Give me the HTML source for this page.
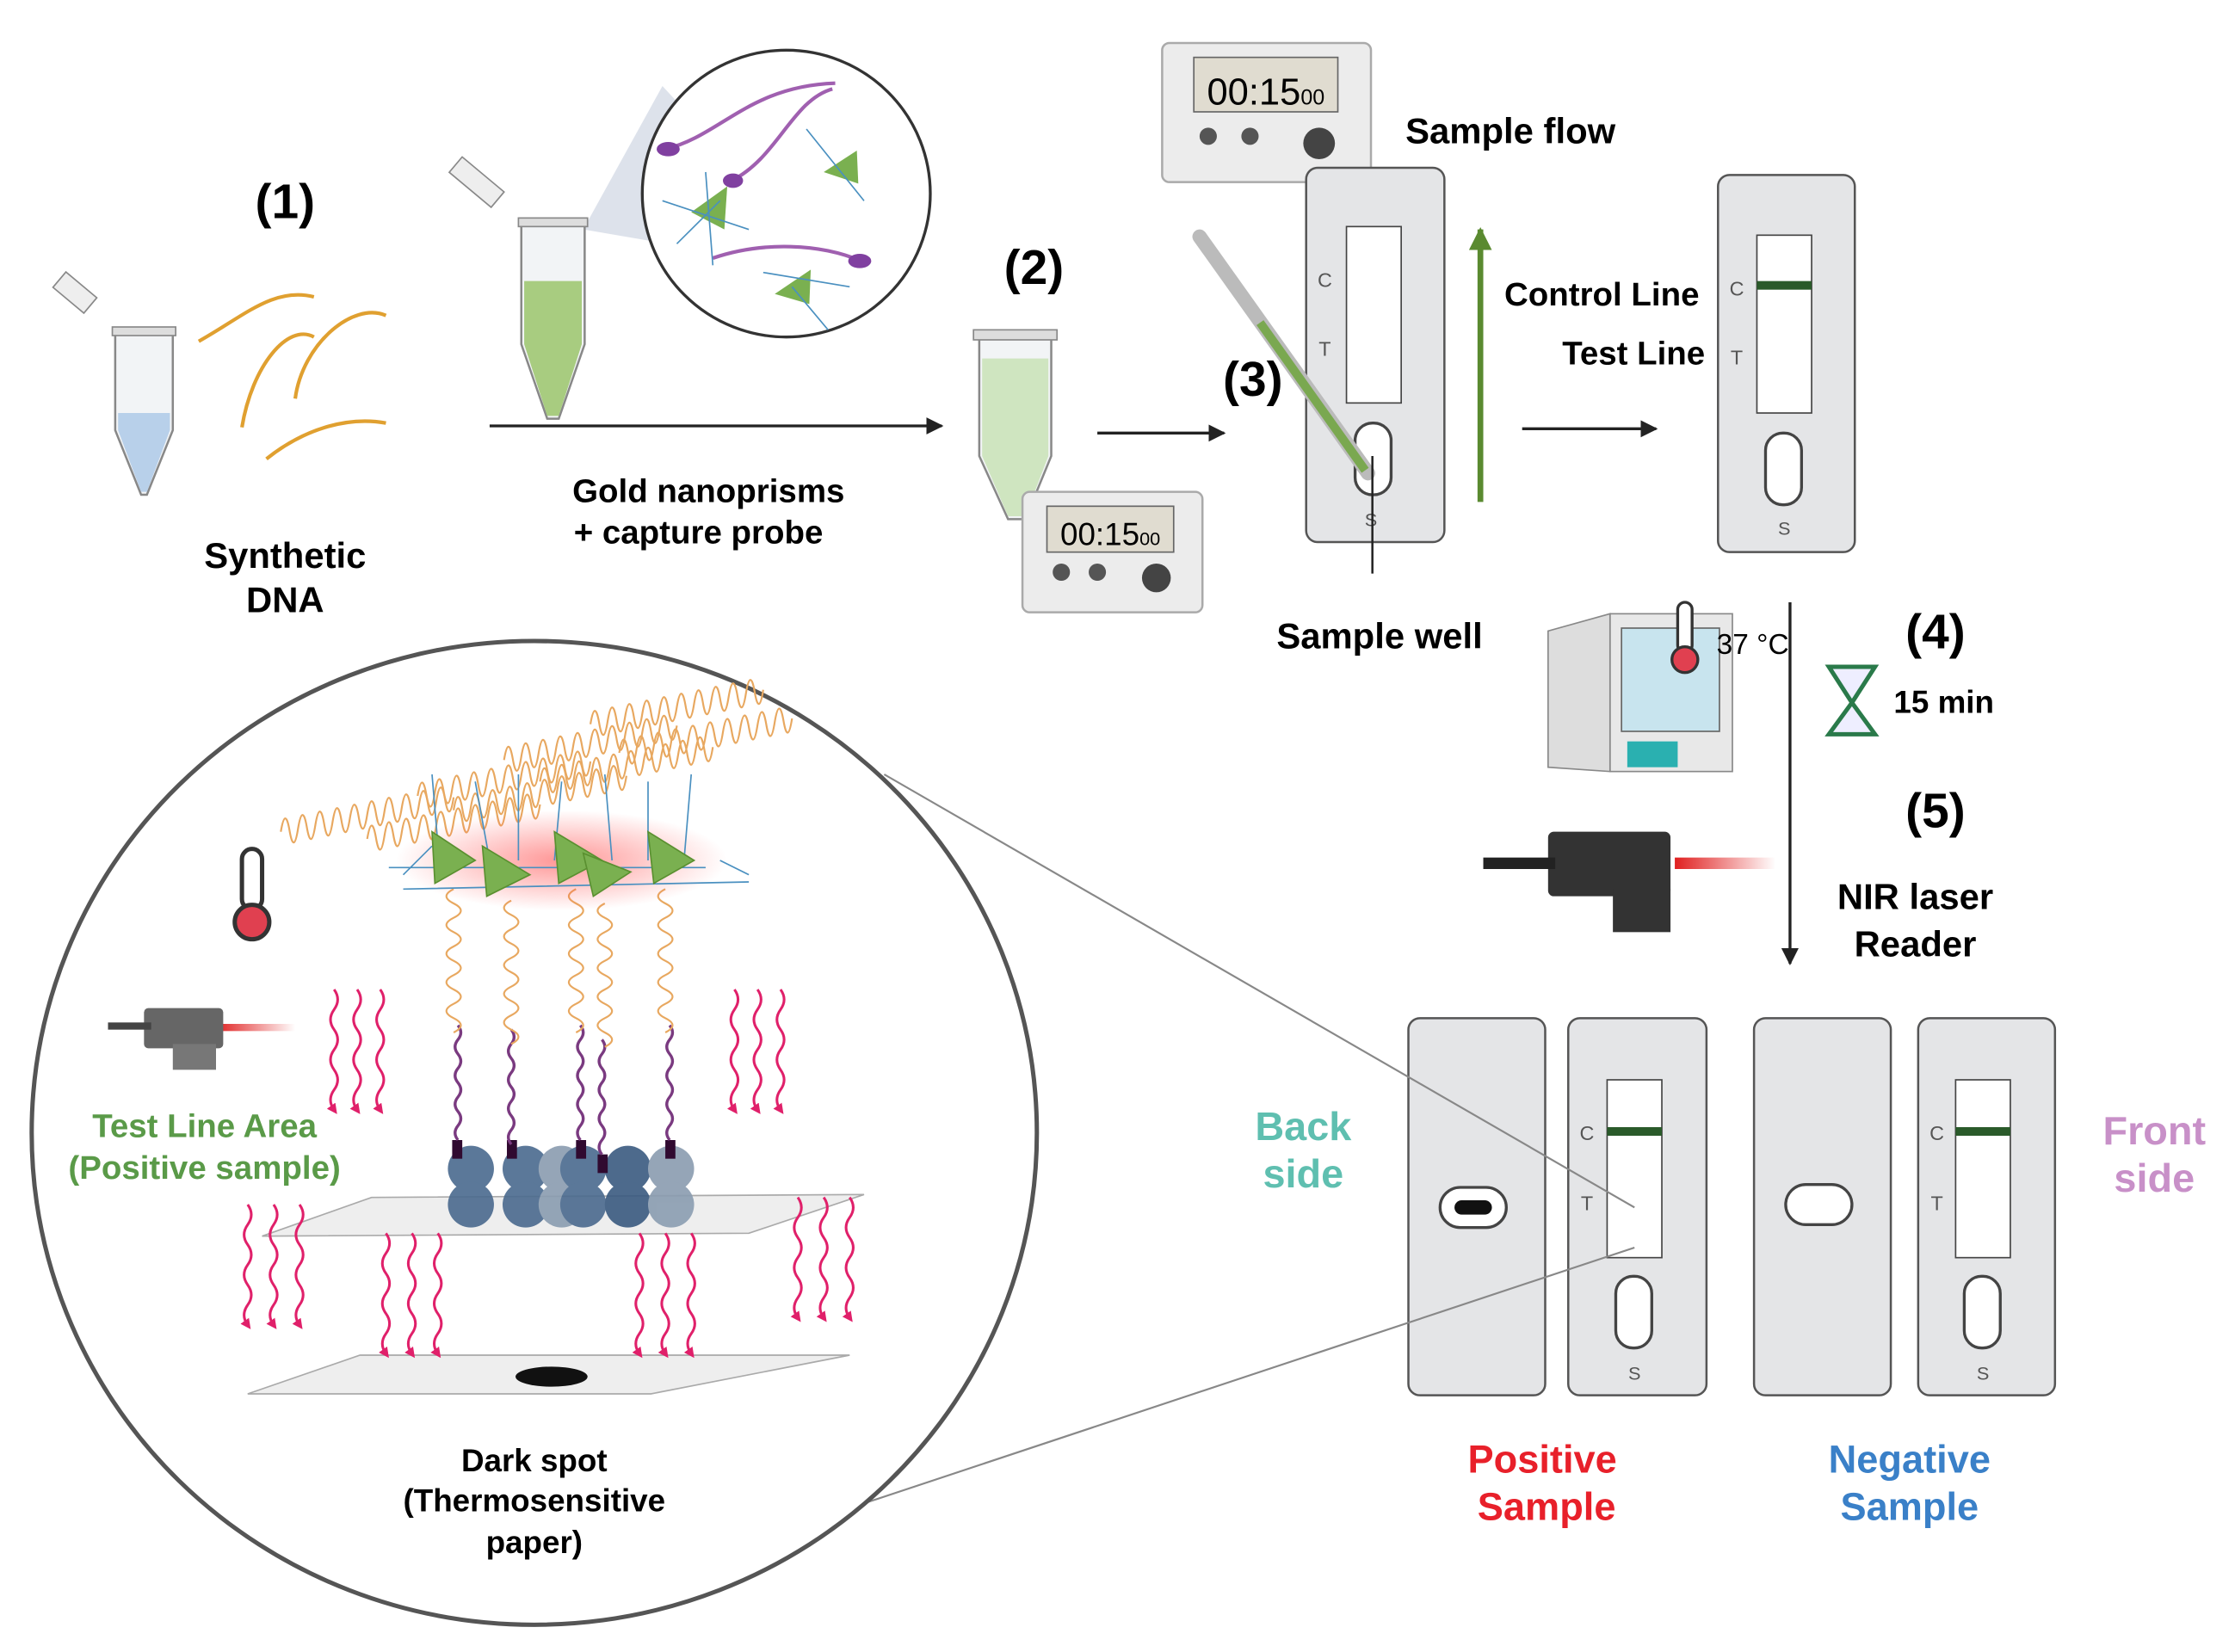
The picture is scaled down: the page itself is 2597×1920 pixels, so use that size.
<!DOCTYPE html>
<html><head><meta charset="utf-8"><style>
html,body{margin:0;padding:0;background:#fff;}
svg{display:block;}
text{font-family:"Liberation Sans",sans-serif;font-weight:bold;}
</style></head><body>
<svg width="2597" height="1920" viewBox="0 0 1552 1152" preserveAspectRatio="none" xmlns="http://www.w3.org/2000/svg">
<defs>
<marker id="ah" viewBox="0 0 10 10" refX="9" refY="5" markerWidth="6" markerHeight="6" orient="auto"><path d="M0,0L10,5L0,10z" fill="#222"/></marker>
<marker id="ag" viewBox="0 0 10 10" refX="9" refY="5" markerWidth="4" markerHeight="4" orient="auto"><path d="M0,0L10,5L0,10z" fill="#5a8a30"/></marker>
<marker id="ap" viewBox="0 0 10 10" refX="5" refY="5" markerWidth="4" markerHeight="4" orient="auto"><path d="M0,0L10,5L0,10z" fill="#e0206a"/></marker>
<path id="pw" d="M0,0 q5,7 0,14 q-5,7 0,14 q5,7 0,14 q-5,7 0,14 q5,7 0,14 q-5,7 0,14" fill="none" stroke="#e0206a" stroke-width="1.8" marker-end="url(#ap)"/>
<path id="ow" d="M0,0 q-10,5 0,10 q10,5 0,10 q-10,5 0,10 q10,5 0,10 q-10,5 0,10 q10,5 0,10 q-10,5 0,10 q10,5 0,10 q-10,5 0,10 q10,5 0,10" fill="none" stroke="#e8a860" stroke-width="1.3"/>
<path id="vw" d="M0,0 q4,5 0,10 q-4,5 0,10 q4,5 0,10 q-4,5 0,10 q4,5 0,10 q-4,5 0,10 q4,5 0,10 q-4,5 0,10" fill="none" stroke="#7a3a80" stroke-width="2"/>
<path id="hc" d="M0,0 q3,-18 6,-1.2 q3,18 6,-1.2 q3,-18 6,-1.2 q3,18 6,-1.2 q3,-18 6,-1.2 q3,18 6,-1.2 q3,-18 6,-1.2 q3,18 6,-1.2 q3,-18 6,-1.2 q3,18 6,-1.2 q3,-18 6,-1.2 q3,18 6,-1.2 q3,-18 6,-1.2 q3,18 6,-1.2 q3,-18 6,-1.2 q3,18 6,-1.2 q3,-18 6,-1.2 q3,18 6,-1.2 q3,-18 6,-1.2 q3,18 6,-1.2" fill="none" stroke="#e8a860" stroke-width="1.3"/>
<radialGradient id="glow"><stop offset="0" stop-color="#ff5050" stop-opacity=".6"/><stop offset="1" stop-color="#ff5050" stop-opacity="0"/></radialGradient>
<linearGradient id="las" x1="0" x2="1"><stop offset="0" stop-color="#e02020"/><stop offset="1" stop-color="#e02020" stop-opacity="0"/></linearGradient>
</defs>

<!-- Step 1 -->
<text x="198" y="152" font-size="34" text-anchor="middle">(1)</text>
<g>
<rect x="38" y="197" width="28" height="14" fill="#eee" stroke="#888" transform="rotate(40 52 204)"/>
<path d="M80,232 L120,232 L120,300 L102,345 L98,345 L80,300Z" fill="#f2f4f6" stroke="#888" stroke-width="1.5"/>
<path d="M82,288 L118,288 L118,300 L102,343 L98,343 L82,300Z" fill="#b8d0ea"/>
<rect x="78" y="228" width="44" height="6" fill="#ddd" stroke="#888"/>
</g>
<g fill="none" stroke="#e0a030" stroke-width="2.5">
<path d="M138,238 C170,220 190,200 218,207"/>
<path d="M168,298 C175,255 200,225 218,235"/>
<path d="M205,278 C210,240 245,210 268,220"/>
<path d="M185,320 C210,300 240,290 268,295"/>
</g>
<text x="198" y="396" font-size="25" text-anchor="middle">Synthetic</text>
<text x="198" y="427" font-size="25" text-anchor="middle">DNA</text>

<!-- tube with gold -->
<path d="M405,160 L460,60 L580,190 Z" fill="#d5dbe6" opacity=".8"/>
<rect x="312" y="120" width="38" height="14" fill="#eee" stroke="#888" transform="rotate(40 331 127)"/>
<path d="M362,156 L406,156 L406,240 L388,292 L380,292 L362,240Z" fill="#f2f4f6" stroke="#888" stroke-width="1.5"/>
<path d="M364,196 L404,196 L404,240 L388,290 L380,290 L364,240Z" fill="#a8cc80"/>
<rect x="360" y="152" width="48" height="6" fill="#ddd" stroke="#888"/>
<circle cx="546" cy="135" r="100" fill="#fff" stroke="#333" stroke-width="2"/>
<g fill="none" stroke="#a060b0" stroke-width="2.5"><path d="M462,104 C500,95 520,60 580,58"/><path d="M508,126 C540,110 550,70 578,62"/><path d="M495,180 C530,168 570,170 598,182"/></g>
<ellipse cx="464" cy="104" rx="8" ry="5" fill="#8040a0"/><ellipse cx="509" cy="126" rx="7" ry="5" fill="#8040a0"/><ellipse cx="597" cy="182" rx="8" ry="5" fill="#8040a0"/>
<g fill="#7ab050"><path d="M480,148 L505,130 L503,160Z"/><path d="M572,120 L595,105 L596,128Z"/><path d="M538,205 L563,188 L562,212Z"/></g>
<g stroke="#4a90c0" stroke-width="1" fill="none"><path d="M460,140 L520,160 M490,120 L495,185 M560,90 L600,140 M550,200 L575,230 M530,190 L590,200 M470,170 L500,140"/></g>
<line x1="340" y1="297" x2="654" y2="297" stroke="#222" stroke-width="2" marker-end="url(#ah)"/>
<text x="492" y="350" font-size="23" text-anchor="middle">Gold nanoprisms</text>
<text x="485" y="379" font-size="23" text-anchor="middle">+ capture probe</text>

<!-- step 2 -->
<text x="718" y="198" font-size="34" text-anchor="middle">(2)</text>
<path d="M680,236 L730,236 L730,318 L712,362 L700,362 L680,318Z" fill="#f2f4f6" stroke="#888" stroke-width="1.5"/>
<path d="M682,250 L728,250 L728,318 L712,360 L700,360 L682,318Z" fill="#cfe5c0"/>
<rect x="676" y="230" width="58" height="7" fill="#ddd" stroke="#888"/>
<rect x="710" y="343" width="125" height="84" rx="5" fill="#ececec" stroke="#aaa" stroke-width="1.5"/>
<rect x="727" y="353" width="88" height="32" fill="#e0dcd0" stroke="#666"/>
<text x="771" y="380" font-size="22" text-anchor="middle" style="font-weight:normal">00:15<tspan font-size="13">00</tspan></text>
<circle cx="737" cy="399" r="6" fill="#555"/><circle cx="762" cy="399" r="6" fill="#555"/><circle cx="803" cy="403" r="10" fill="#444"/>
<line x1="762" y1="302" x2="850" y2="302" stroke="#222" stroke-width="2" marker-end="url(#ah)"/>

<!-- timer top -->
<rect x="807" y="30" width="145" height="97" rx="5" fill="#ececec" stroke="#aaa" stroke-width="1.5"/>
<rect x="829" y="40" width="100" height="38" fill="#e0dcd0" stroke="#666"/>
<text x="879" y="73" font-size="26" text-anchor="middle" style="font-weight:normal">00:15<tspan font-size="15">00</tspan></text>
<circle cx="839" cy="95" r="6" fill="#555"/><circle cx="868" cy="95" r="6" fill="#555"/><circle cx="916" cy="100" r="11" fill="#444"/>
<text x="976" y="100" font-size="25">Sample flow</text>

<!-- cassette 3 -->
<text x="870" y="276" font-size="34" text-anchor="middle">(3)</text>
<rect x="907" y="117" width="96" height="261" rx="8" fill="#e4e5e7" stroke="#555" stroke-width="1.5"/>
<rect x="935" y="158" width="38" height="123" fill="#fff" stroke="#444"/>
<text x="920" y="200" font-size="14" fill="#555" style="font-weight:normal" text-anchor="middle">C</text>
<text x="920" y="248" font-size="14" fill="#555" style="font-weight:normal" text-anchor="middle">T</text>
<rect x="941" y="295" width="25" height="50" rx="12" fill="#fff" stroke="#444" stroke-width="2"/>
<text x="952" y="367" font-size="13" fill="#555" style="font-weight:normal" text-anchor="middle">S</text>
<line x1="833" y1="165" x2="950" y2="330" stroke="#bbb" stroke-width="10" stroke-linecap="round"/>
<line x1="875" y1="225" x2="948" y2="328" stroke="#7aa850" stroke-width="6"/>
<line x1="953" y1="318" x2="953" y2="400" stroke="#222" stroke-width="1.5"/>
<text x="958" y="452" font-size="25" text-anchor="middle">Sample well</text>
<line x1="1028" y1="350" x2="1028" y2="160" stroke="#5a8a30" stroke-width="4" marker-end="url(#ag)"/>
<text x="1180" y="213" font-size="23" text-anchor="end">Control Line</text>
<text x="1184" y="254" font-size="23" text-anchor="end">Test Line</text>
<line x1="1057" y1="299" x2="1150" y2="299" stroke="#222" stroke-width="2" marker-end="url(#ah)"/>
<rect x="1193" y="122" width="95" height="263" rx="8" fill="#e4e5e7" stroke="#555" stroke-width="1.5"/>
<rect x="1220" y="164" width="38" height="124" fill="#fff" stroke="#444"/>
<rect x="1220" y="196" width="38" height="6" fill="#2a5a2a"/>
<text x="1206" y="206" font-size="14" fill="#555" style="font-weight:normal" text-anchor="middle">C</text>
<text x="1206" y="254" font-size="14" fill="#555" style="font-weight:normal" text-anchor="middle">T</text>
<rect x="1226" y="302" width="25" height="50" rx="12" fill="#fff" stroke="#444" stroke-width="2"/>
<text x="1239" y="373" font-size="13" fill="#555" style="font-weight:normal" text-anchor="middle">S</text>

<!-- incubator -->
<rect x="1118" y="428" width="85" height="110" fill="#e8e8e8" stroke="#888"/>
<rect x="1126" y="438" width="68" height="72" fill="#c8e4ee" stroke="#666"/>
<path d="M1118,428 L1075,440 L1075,535 L1118,538Z" fill="#ddd" stroke="#888"/>
<rect x="1130" y="517" width="35" height="18" fill="#2ab0b0"/>
<rect x="1165" y="420" width="10" height="35" rx="5" fill="#fff" stroke="#333" stroke-width="2"/>
<circle cx="1170" cy="460" r="9" fill="#e04050" stroke="#333" stroke-width="2"/>
<text x="1192" y="456" font-size="20" style="font-weight:normal">37 °C</text>
<text x="1344" y="452" font-size="34" text-anchor="middle">(4)</text>
<path d="M1270,465 L1302,465 L1286,490 L1302,512 L1270,512 L1286,490Z" fill="#eef" stroke="#2a7a4a" stroke-width="3"/>
<text x="1315" y="497" font-size="22">15 min</text>
<line x1="1243" y1="420" x2="1243" y2="672" stroke="#222" stroke-width="2" marker-end="url(#ah)"/>
<text x="1344" y="577" font-size="34" text-anchor="middle">(5)</text>
<text x="1330" y="634" font-size="25" text-anchor="middle">NIR laser</text>
<text x="1330" y="667" font-size="25" text-anchor="middle">Reader</text>
<rect x="1163" y="598" width="70" height="8" fill="url(#las)"/>
<rect x="1075" y="580" width="85" height="45" rx="4" fill="#333"/>
<rect x="1030" y="598" width="50" height="8" fill="#222"/>
<rect x="1120" y="620" width="40" height="30" fill="#333"/>

<!-- bottom cassettes -->
<text x="905" y="795" font-size="28" fill="#5fbfb0" text-anchor="middle">Back</text>
<text x="905" y="828" font-size="28" fill="#5fbfb0" text-anchor="middle">side</text>
<text x="1496" y="798" font-size="28" fill="#c890c8" text-anchor="middle">Front</text>
<text x="1496" y="831" font-size="28" fill="#c890c8" text-anchor="middle">side</text>
<rect x="978" y="710" width="95" height="263" rx="8" fill="#e4e5e7" stroke="#555" stroke-width="1.5"/>
<rect x="1000" y="828" width="46" height="28" rx="14" fill="#fff" stroke="#444" stroke-width="2"/>
<rect x="1010" y="837" width="26" height="10" rx="5" fill="#111"/>
<rect x="1218" y="710" width="95" height="263" rx="8" fill="#e4e5e7" stroke="#555" stroke-width="1.5"/>
<rect x="1240" y="826" width="46" height="28" rx="14" fill="#fff" stroke="#444" stroke-width="2"/>
<g>
<rect x="1089" y="710" width="96" height="263" rx="8" fill="#e4e5e7" stroke="#555" stroke-width="1.5"/>
<rect x="1116" y="753" width="38" height="124" fill="#fff" stroke="#444"/>
<rect x="1116" y="786" width="38" height="6" fill="#2a5a2a"/>
<text x="1102" y="795" font-size="14" fill="#555" style="font-weight:normal" text-anchor="middle">C</text>
<text x="1102" y="844" font-size="14" fill="#555" style="font-weight:normal" text-anchor="middle">T</text>
<rect x="1122" y="890" width="25" height="50" rx="12" fill="#fff" stroke="#444" stroke-width="2"/>
<text x="1135" y="962" font-size="13" fill="#555" style="font-weight:normal" text-anchor="middle">S</text>
</g>
<g>
<rect x="1332" y="710" width="95" height="263" rx="8" fill="#e4e5e7" stroke="#555" stroke-width="1.5"/>
<rect x="1358" y="753" width="38" height="124" fill="#fff" stroke="#444"/>
<rect x="1358" y="786" width="38" height="6" fill="#2a5a2a"/>
<text x="1345" y="795" font-size="14" fill="#555" style="font-weight:normal" text-anchor="middle">C</text>
<text x="1345" y="844" font-size="14" fill="#555" style="font-weight:normal" text-anchor="middle">T</text>
<rect x="1364" y="890" width="25" height="50" rx="12" fill="#fff" stroke="#444" stroke-width="2"/>
<text x="1377" y="962" font-size="13" fill="#555" style="font-weight:normal" text-anchor="middle">S</text>
</g>
<text x="1071" y="1027" font-size="27" fill="#e8202a" text-anchor="middle">Positive</text>
<text x="1074" y="1060" font-size="27" fill="#e8202a" text-anchor="middle">Sample</text>
<text x="1326" y="1027" font-size="27" fill="#3a80c8" text-anchor="middle">Negative</text>
<text x="1326" y="1060" font-size="27" fill="#3a80c8" text-anchor="middle">Sample</text>

<!-- zoom lines -->
<line x1="614" y1="540" x2="1135" y2="842" stroke="#888" stroke-width="1.3"/>
<line x1="580" y1="1055" x2="1135" y2="870" stroke="#888" stroke-width="1.3"/>

<!-- big circle -->
<ellipse cx="371" cy="790" rx="349" ry="343" fill="#fff" stroke="#555" stroke-width="3"/>
<!-- plates -->
<path d="M182,862 L258,835 L600,833 L520,860Z" fill="#eee" stroke="#aaa"/>
<path d="M172,972 L250,945 L590,945 L452,972Z" fill="#eee" stroke="#aaa"/>
<ellipse cx="383" cy="960" rx="25" ry="7" fill="#111"/>
<!-- receptors -->
<g fill="#4a6a8e" opacity=".9">
<circle cx="327" cy="815" r="16"/><circle cx="327" cy="840" r="16"/>
<circle cx="365" cy="815" r="16"/><circle cx="365" cy="840" r="16"/>
<circle cx="390" cy="815" r="16" fill="#8a9cb0"/><circle cx="390" cy="840" r="16" fill="#8a9cb0"/>
<circle cx="405" cy="815" r="16"/><circle cx="405" cy="840" r="16"/>
<circle cx="436" cy="815" r="16" fill="#3a5a80"/><circle cx="436" cy="840" r="16" fill="#3a5a80"/>
<circle cx="466" cy="815" r="16" fill="#8a9cb0"/><circle cx="466" cy="840" r="16" fill="#8a9cb0"/>
</g>
<g fill="#300a30"><rect x="314" y="795" width="7" height="13"/><rect x="352" y="795" width="7" height="13"/><rect x="400" y="795" width="7" height="13"/><rect x="415" y="805" width="7" height="13"/><rect x="462" y="795" width="7" height="13"/></g>
<use href="#vw" x="318" y="715"/><use href="#vw" x="355" y="718"/><use href="#vw" x="403" y="715"/><use href="#vw" x="418" y="725"/><use href="#vw" x="465" y="715"/>
<use href="#ow" x="315" y="620"/><use href="#ow" x="355" y="628"/><use href="#ow" x="400" y="620"/><use href="#ow" x="420" y="630"/><use href="#ow" x="462" y="620"/>
<!-- orange top coils -->
<use href="#hc" x="195" y="580"/><use href="#hc" x="255" y="585"/><use href="#hc" x="315" y="565"/><use href="#hc" x="375" y="545"/><use href="#hc" x="430" y="525"/>
<use href="#hc" x="290" y="555"/><use href="#hc" x="350" y="530"/><use href="#hc" x="410" y="505"/>
<ellipse cx="390" cy="600" rx="115" ry="35" fill="url(#glow)"/>
<g stroke="#4a90c0" stroke-width="1" fill="none">
<path d="M300,540 l5,60 M330,545 l10,55 M360,540 l0,60 M390,545 l-5,55 M420,540 l5,60 M450,545 l0,55 M480,540 l-5,60 M270,605 l220,0 M280,620 l240,-5 M300,590 l-20,20 M500,600 l20,10"/>
</g>
<g fill="#7ab050" stroke="#5a9030">
<path d="M300,580 L330,600 L302,616Z"/><path d="M335,590 L368,610 L338,625Z"/><path d="M385,580 L418,600 L388,616Z"/><path d="M405,595 L438,608 L412,625Z"/><path d="M450,580 L482,600 L454,616Z"/>
</g>
<!-- pink arrows -->
<use href="#pw" x="232" y="690"/><use href="#pw" x="248" y="690"/><use href="#pw" x="264" y="690"/>
<use href="#pw" x="510" y="690"/><use href="#pw" x="526" y="690"/><use href="#pw" x="542" y="690"/>
<use href="#pw" x="172" y="840"/><use href="#pw" x="190" y="840"/><use href="#pw" x="208" y="840"/>
<use href="#pw" x="268" y="860"/><use href="#pw" x="286" y="860"/><use href="#pw" x="304" y="860"/>
<use href="#pw" x="444" y="860"/><use href="#pw" x="462" y="860"/><use href="#pw" x="480" y="860"/>
<use href="#pw" x="554" y="835"/><use href="#pw" x="572" y="835"/><use href="#pw" x="590" y="835"/>
<!-- thermometer -->
<rect x="168" y="592" width="14" height="42" rx="7" fill="#fff" stroke="#333" stroke-width="3"/>
<circle cx="175" cy="643" r="12" fill="#e04050" stroke="#333" stroke-width="3"/>
<!-- small laser -->
<rect x="150" y="714" width="55" height="5" fill="url(#las)"/>
<rect x="100" y="703" width="55" height="28" rx="3" fill="#666"/>
<rect x="75" y="713" width="30" height="5" fill="#444"/>
<rect x="120" y="728" width="30" height="18" fill="#777"/>
<text x="142" y="793" font-size="23" fill="#5a9a48" text-anchor="middle">Test Line Area</text>
<text x="142" y="822" font-size="23" fill="#5a9a48" text-anchor="middle">(Positive sample)</text>
<text x="371" y="1026" font-size="22" text-anchor="middle">Dark spot</text>
<text x="371" y="1054" font-size="22" text-anchor="middle">(Thermosensitive</text>
<text x="371" y="1083" font-size="22" text-anchor="middle">paper)</text>
</svg>
</body></html>
